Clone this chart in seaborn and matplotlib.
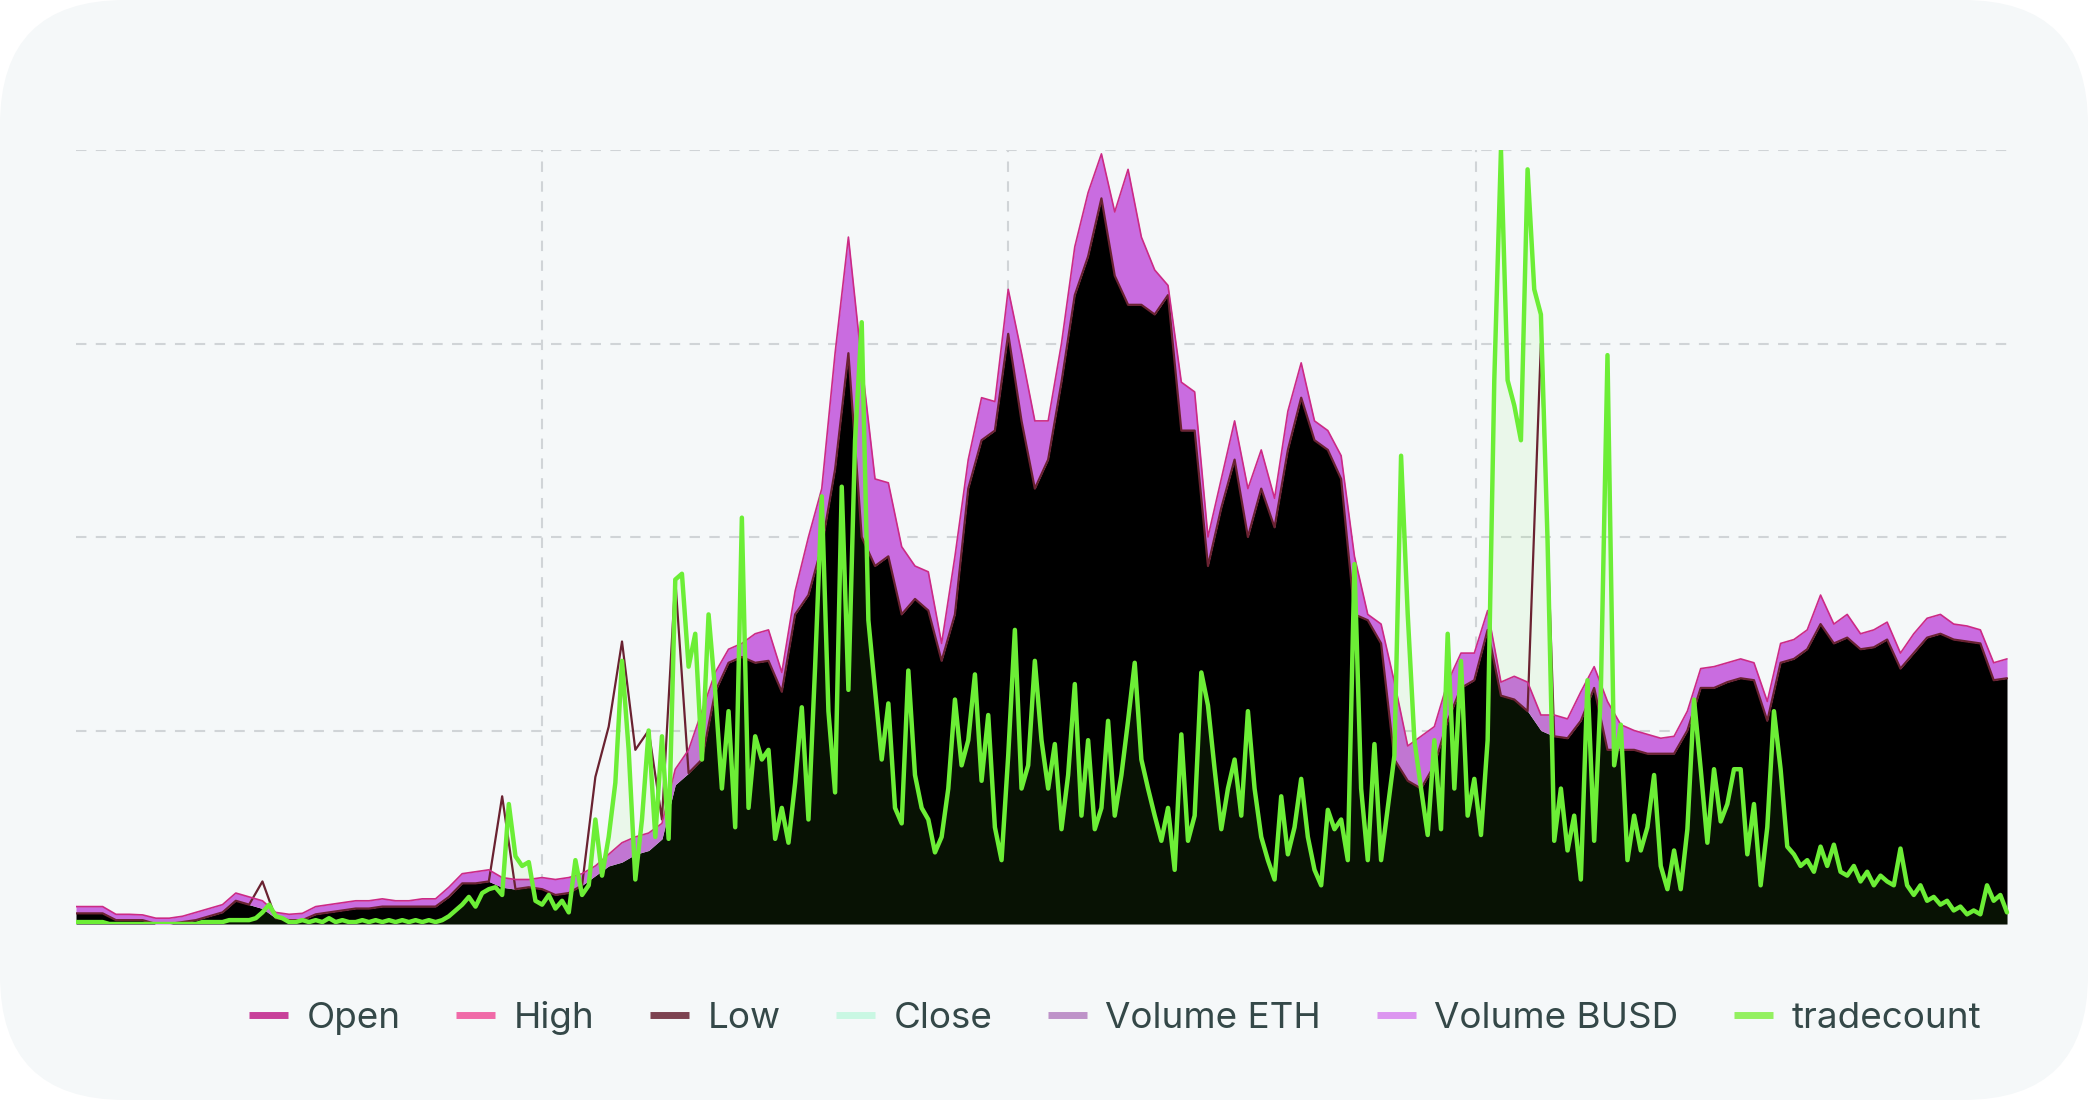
import numpy as np
import pandas as pd
import matplotlib
matplotlib.use("Agg")
import matplotlib.pyplot as plt
from matplotlib.patches import FancyBboxPatch
from matplotlib.lines import Line2D
import seaborn as sns

# ---------------- data (normalised, gridline units 0..4) ----------------
series_names = ["Open", "High", "Low", "Close", "Volume ETH", "Volume BUSD", "tradecount"]
legend_colors = ["#c8409a", "#f06aa8", "#7d4351", "#c9f7e3", "#be93c9", "#dc96f0", "#93f060"]

# upper envelope of the price / volume band (10-day steps)
high_vals = [0.09, 0.09, 0.09, 0.05, 0.05, 0.047, 0.03, 0.03, 0.04, 0.06,
             0.08, 0.10, 0.16, 0.14, 0.12, 0.06, 0.05, 0.055, 0.09, 0.10,
             0.11, 0.12, 0.12, 0.13, 0.12, 0.12, 0.13, 0.13, 0.19, 0.26,
             0.27, 0.28, 0.24, 0.23, 0.23, 0.24, 0.23, 0.24, 0.26, 0.30,
             0.36, 0.42, 0.45, 0.47, 0.52, 0.80, 0.90, 1.10, 1.30, 1.42,
             1.45, 1.50, 1.52, 1.30, 1.72, 2.00, 2.25, 2.95, 3.55, 2.90,
             2.30, 2.28, 1.95, 1.85, 1.82, 1.45, 1.90, 2.40, 2.72, 2.70,
             3.28, 2.95, 2.60, 2.60, 3.00, 3.50, 3.78, 3.98, 3.68, 3.90,
             3.55, 3.38, 3.30, 2.80, 2.75, 2.00, 2.30, 2.60, 2.25, 2.45,
             2.20, 2.65, 2.90, 2.60, 2.55, 2.42, 1.90, 1.60, 1.55, 1.25,
             0.92, 0.97, 1.02, 1.25, 1.40, 1.40, 1.62, 1.25, 1.28, 1.25,
             1.08, 1.08, 1.06, 1.20, 1.33, 1.15, 1.03, 1.00, 0.98, 0.96,
             0.97, 1.10, 1.32, 1.33, 1.35, 1.37, 1.35, 1.15, 1.45, 1.47,
             1.52, 1.70, 1.55, 1.60, 1.50, 1.52, 1.56, 1.40, 1.50, 1.58,
             1.60, 1.55, 1.54, 1.52, 1.35, 1.37]

# top of the dark filled area
close_vals = [0.055, 0.055, 0.055, 0.02, 0.02, 0.02, 0.0, 0.0, 0.01, 0.02,
              0.04, 0.06, 0.12, 0.10, 0.08, 0.03, 0.02, 0.02, 0.05, 0.06,
              0.07, 0.08, 0.08, 0.09, 0.09, 0.09, 0.09, 0.09, 0.14, 0.21,
              0.21, 0.22, 0.19, 0.18, 0.19, 0.18, 0.15, 0.16, 0.20, 0.25,
              0.30, 0.32, 0.36, 0.38, 0.44, 0.72, 0.78, 0.85, 1.20, 1.35,
              1.38, 1.35, 1.36, 1.20, 1.60, 1.70, 1.95, 2.35, 2.95, 2.00,
              1.85, 1.90, 1.60, 1.68, 1.62, 1.36, 1.60, 2.25, 2.50, 2.55,
              3.05, 2.60, 2.25, 2.40, 2.80, 3.25, 3.45, 3.75, 3.35, 3.20,
              3.20, 3.15, 3.25, 2.55, 2.55, 1.85, 2.15, 2.40, 2.00, 2.25,
              2.05, 2.45, 2.72, 2.50, 2.45, 2.30, 1.60, 1.57, 1.45, 0.85,
              0.74, 0.70, 0.82, 1.05, 1.22, 1.26, 1.52, 1.18, 1.16, 1.10,
              1.00, 0.97, 0.96, 1.05, 1.22, 0.90, 0.90, 0.90, 0.88, 0.88,
              0.88, 1.00, 1.22, 1.22, 1.25, 1.27, 1.26, 1.05, 1.35, 1.37,
              1.42, 1.55, 1.45, 1.48, 1.42, 1.43, 1.47, 1.32, 1.40, 1.48,
              1.50, 1.47, 1.46, 1.45, 1.26, 1.27]

# "Low" line with its spikes
low_vals = [0.055, 0.055, 0.055, 0.02, 0.02, 0.02, 0.0, 0.0, 0.01, 0.02,
            0.04, 0.06, 0.12, 0.10, 0.22, 0.03, 0.02, 0.02, 0.05, 0.06,
            0.07, 0.08, 0.08, 0.09, 0.09, 0.09, 0.09, 0.09, 0.14, 0.21,
            0.21, 0.22, 0.66, 0.18, 0.19, 0.18, 0.15, 0.16, 0.20, 0.76,
            1.02, 1.46, 0.90, 1.00, 0.54, 1.78, 0.78, 0.85, 1.20, 1.35,
            1.38, 1.35, 1.36, 1.20, 1.60, 1.70, 1.95, 2.35, 2.95, 2.00,
            1.85, 1.90, 1.60, 1.68, 1.62, 1.36, 1.60, 2.25, 2.50, 2.55,
            3.05, 2.60, 2.25, 2.40, 2.80, 3.25, 3.45, 3.75, 3.35, 3.20,
            3.20, 3.15, 3.25, 2.55, 2.55, 1.85, 2.15, 2.40, 2.00, 2.25,
            2.05, 2.45, 2.72, 2.50, 2.45, 2.30, 1.60, 1.57, 1.45, 0.85,
            0.74, 0.70, 0.82, 1.05, 1.22, 1.26, 1.52, 1.18, 1.16, 1.10,
            3.00, 0.97, 0.96, 1.05, 1.22, 0.90, 0.90, 0.90, 0.88, 0.88,
            0.88, 1.00, 1.22, 1.22, 1.25, 1.27, 1.26, 1.05, 1.35, 1.37,
            1.42, 1.55, 1.45, 1.48, 1.42, 1.43, 1.47, 1.32, 1.40, 1.48,
            1.50, 1.47, 1.46, 1.45, 1.26, 1.27]

# tradecount (5-day steps)
tradecount_vals = [
    0.01, 0.01, 0.01, 0.01, 0.01, 0.0, 0.0, 0.0, 0.0, 0.0,
    0.0, 0.0, 0.0, 0.0, 0.0, 0.0, 0.0, 0.0, 0.0, 0.01,
    0.01, 0.01, 0.01, 0.02, 0.02, 0.02, 0.02, 0.03, 0.06, 0.10,
    0.04, 0.03, 0.01, 0.01, 0.02, 0.01, 0.02, 0.01, 0.03, 0.01,
    0.02, 0.01, 0.01, 0.02, 0.01, 0.02, 0.01, 0.02, 0.01, 0.02,
    0.01, 0.02, 0.01, 0.02, 0.01, 0.02, 0.04, 0.07, 0.10, 0.14,
    0.09, 0.16, 0.18, 0.19, 0.15, 0.62, 0.35, 0.30, 0.32, 0.12,
    0.10, 0.15, 0.08, 0.12, 0.06, 0.33, 0.15, 0.20, 0.54, 0.25,
    0.45, 0.73, 1.36, 0.90, 0.23, 0.54, 1.00, 0.45, 0.97, 0.44,
    1.78, 1.81, 1.33, 1.50, 0.85, 1.60, 1.20, 0.70, 1.10, 0.50,
    2.10, 0.60, 0.97, 0.85, 0.90, 0.44, 0.60, 0.42, 0.73, 1.12,
    0.54, 1.33, 2.21, 1.10, 0.68, 2.26, 1.21, 2.50, 3.11, 1.57,
    1.21, 0.85, 1.14, 0.60, 0.52, 1.31, 0.77, 0.60, 0.54, 0.37,
    0.45, 0.70, 1.16, 0.82, 0.95, 1.29, 0.74, 1.08, 0.50, 0.33,
    0.87, 1.52, 0.70, 0.82, 1.36, 0.95, 0.70, 0.93, 0.49, 0.77,
    1.24, 0.56, 0.95, 0.49, 0.60, 1.05, 0.56, 0.77, 1.05, 1.35,
    0.85, 0.70, 0.56, 0.43, 0.60, 0.28, 0.98, 0.43, 0.56, 1.30,
    1.13, 0.80, 0.49, 0.70, 0.85, 0.56, 1.10, 0.70, 0.45, 0.33,
    0.23, 0.66, 0.36, 0.50, 0.75, 0.45, 0.28, 0.20, 0.59, 0.49,
    0.54, 0.33, 1.86, 0.70, 0.33, 0.93, 0.33, 0.60, 0.87, 2.42,
    1.60, 0.95, 0.70, 0.46, 0.95, 0.49, 1.50, 0.70, 1.36, 0.56,
    0.75, 0.46, 0.95, 2.81, 4.00, 2.81, 2.68, 2.50, 3.90, 3.28,
    3.15, 1.98, 0.43, 0.70, 0.38, 0.56, 0.23, 1.26, 0.43, 1.20,
    2.94, 0.82, 1.03, 0.33, 0.56, 0.38, 0.50, 0.77, 0.30, 0.18,
    0.38, 0.18, 0.49, 1.16, 0.80, 0.42, 0.80, 0.53, 0.62, 0.80,
    0.80, 0.36, 0.62, 0.20, 0.50, 1.10, 0.80, 0.40, 0.36, 0.30,
    0.33, 0.27, 0.40, 0.30, 0.41, 0.27, 0.25, 0.30, 0.22, 0.27,
    0.20, 0.25, 0.22, 0.20, 0.39, 0.20, 0.15, 0.20, 0.12, 0.14,
    0.10, 0.12, 0.07, 0.09, 0.05, 0.07, 0.05, 0.20, 0.12, 0.15,
    0.06]

price_step = 10
trade_step = 5
x_ticks = [350, 700, 1051]
y_ticks = [1, 2, 3, 4]

# ---------------- figure ----------------
sns.set_theme(style="white")
plt.rcParams["font.family"] = ["Inter", "DejaVu Sans"]

W, H = 2088, 1100
fig = plt.figure(figsize=(W / 100, H / 100), dpi=100)
fig.patch.set_facecolor("white")
card = FancyBboxPatch((0, 0), W, H, boxstyle="round,pad=0,rounding_size=125",
                      transform=None, facecolor="#f5f8f9", edgecolor="none", zorder=-10)
fig.patches.append(card)

ax = fig.add_axes([76 / W, 1 - 924 / H, (2011 - 76) / W, (924 - 150) / H])
ax.set_facecolor("none")
ax.set_zorder(5)

price_df = pd.DataFrame({
    "t": np.arange(len(high_vals)) * price_step,
    "high": high_vals,
    "close": close_vals,
    "low": low_vals,
})
trade_df = pd.DataFrame({
    "t": np.arange(len(tradecount_vals)) * trade_step,
    "tradecount": tradecount_vals,
})

ax.fill_between(price_df["t"], 0, price_df["close"], color="#000000", lw=0, zorder=2)
ax.fill_between(price_df["t"], price_df["close"], price_df["high"], color="#c96ce0", lw=0, zorder=2)
ax.fill_between(trade_df["t"], 0, trade_df["tradecount"], color="#6ef03a", alpha=0.08, lw=0, zorder=3)

sns.lineplot(data=price_df, x="t", y="low", ax=ax, color="#6a2231", lw=1.6, zorder=3)
sns.lineplot(data=price_df, x="t", y="high", ax=ax, color="#cc2a86", lw=1.2, zorder=4)
sns.lineplot(data=trade_df, x="t", y="tradecount", ax=ax, color="#6cee36", lw=3.2, zorder=5)

ax.set_xlim(0, 1453)
ax.set_ylim(0, 4)
ax.set_xticks(x_ticks)
ax.set_yticks(y_ticks)
ax.grid(True, linestyle=(0, (5, 4.5)), color="#d0d4d7", lw=1.5)
ax.set_axisbelow(True)
ax.tick_params(length=0, labelleft=False, labelbottom=False)
ax.set_xlabel("")
ax.set_ylabel("")
for s in ax.spines.values():
    s.set_visible(False)

handles = [Line2D([0], [0], color=c, lw=5, solid_capstyle="butt") for c in legend_colors]
leg = fig.legend(handles, series_names, loc="center right",
                 bbox_to_anchor=(2014 / W, 1 - 1018 / H), ncol=7, frameon=False,
                 fontsize=26.5, handlelength=1.05, handletextpad=0.5, columnspacing=1.52,
                 labelcolor="#344848")

fig.savefig("out.png", dpi=100, facecolor=fig.get_facecolor())
